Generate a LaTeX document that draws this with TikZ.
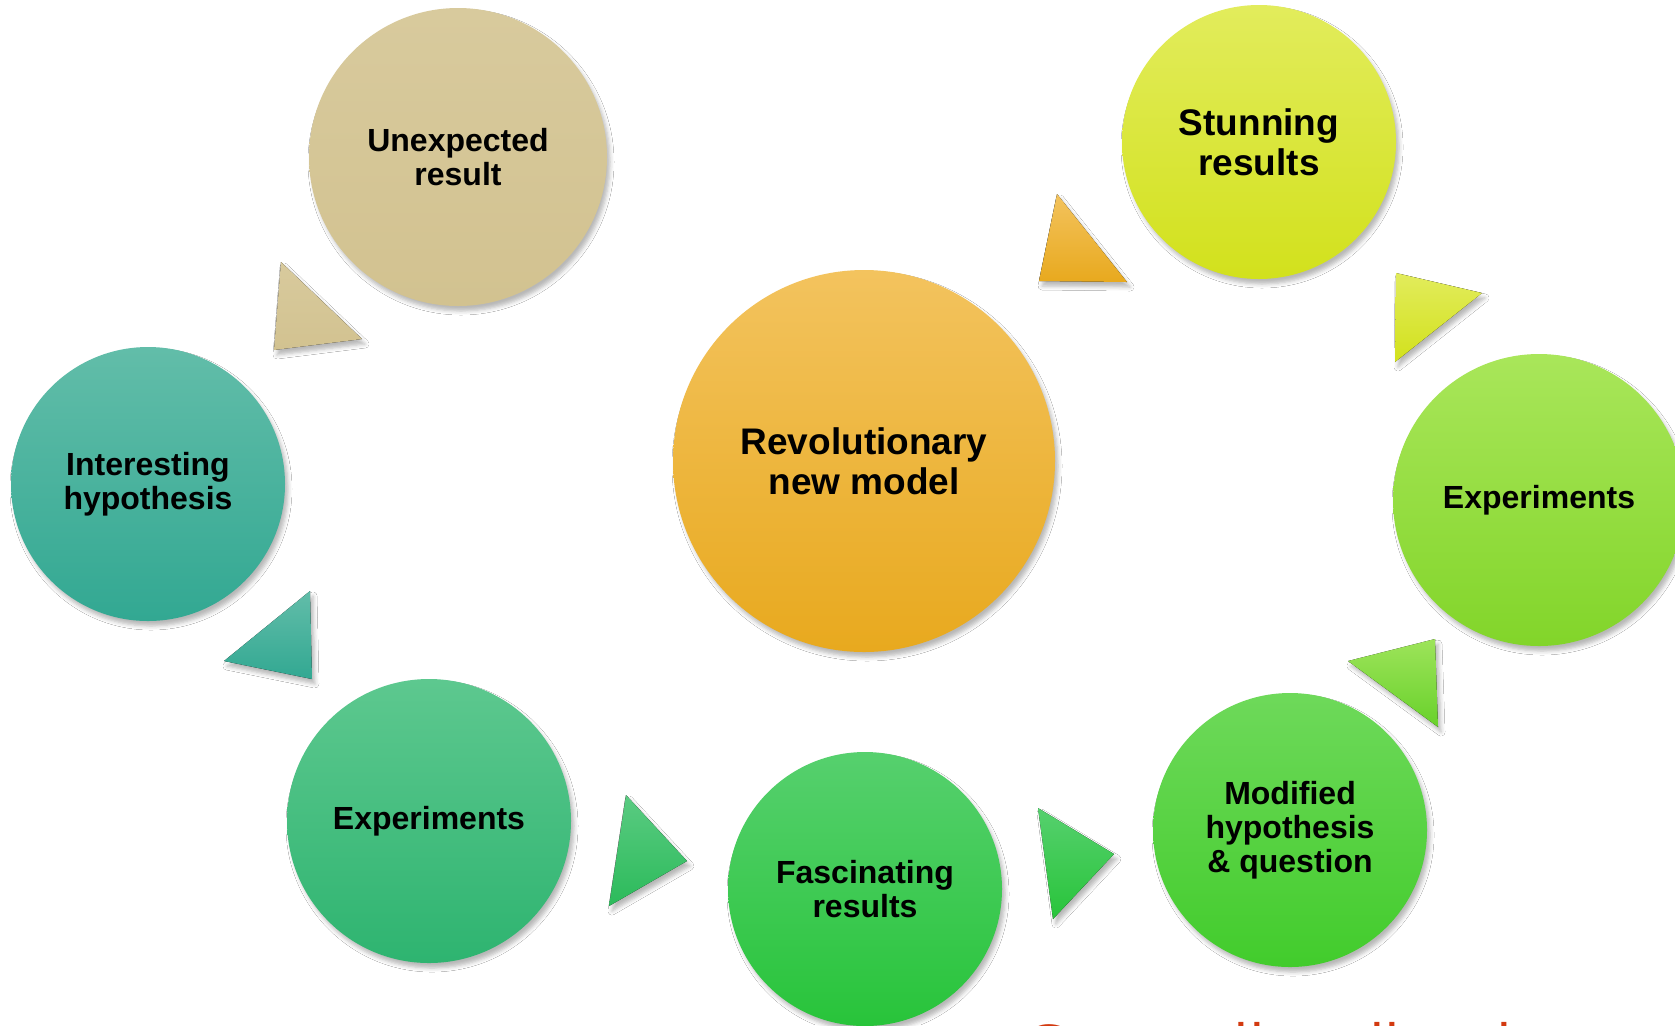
\documentclass[tikz,border=0pt]{standalone}
\usepackage{fontspec}
\setmainfont{Liberation Sans}
\newfontfamily\notefont{Open Sans}
\usetikzlibrary{shadows.blur}

% bubble colours (top / bottom of each gradient)
\definecolor{tanA}{HTML}{D8CA9D}
\definecolor{tanB}{HTML}{D2C290}
\definecolor{tealA}{HTML}{62BDA9}
\definecolor{tealB}{HTML}{32A892}
\definecolor{jadeA}{HTML}{5DC88F}
\definecolor{jadeB}{HTML}{2EB470}
\definecolor{grnA}{HTML}{56D06E}
\definecolor{grnB}{HTML}{28C43A}
\definecolor{limeA}{HTML}{6ED95A}
\definecolor{limeB}{HTML}{42CC2C}
\definecolor{leafA}{HTML}{A9E65A}
\definecolor{leafB}{HTML}{82D52A}
\definecolor{yelA}{HTML}{E2EC5C}
\definecolor{yelB}{HTML}{D2E11C}
\definecolor{ornA}{HTML}{F3C35E}
\definecolor{ornM}{HTML}{F6B92C}
\definecolor{ornB}{HTML}{E8A91E}
\definecolor{noteRed}{HTML}{D33A10}

\tikzset{
  softshadow/.style={blur shadow={shadow xshift=1.5pt, shadow yshift=-2.5pt,
      shadow blur radius=2pt, shadow opacity=28}},
  bubble/.style={circle, inner sep=0pt, align=center, text=black, softshadow,
      font=\bfseries\fontsize{16}{17}\selectfont},
  bigbubble/.style={bubble, font=\bfseries\fontsize{18.5}{20}\selectfont},
  pointer/.style={softshadow},
}

\begin{document}
\begin{tikzpicture}[x=0.5pt, y=-0.5pt]
  \useasboundingbox (0,0) rectangle (1675,1025);
  \clip (0,0) rectangle (1675,1025);
  \fill[white] (0,0) rectangle (1675,1025);

  % the cycle of bubbles
  \node[bubble, minimum size=149pt, top color=tanA, bottom color=tanB]
    (unexp) at (458,157) {Unexpected\\result};
  \node[bubble, minimum size=137pt, top color=tealA, bottom color=tealB]
    (hypo) at (148,484) {Interesting\\hypothesis};
  \node[bubble, minimum size=142pt, top color=jadeA, bottom color=jadeB]
    (expL) at (429,821) {Experiments};
  \node[bubble, minimum size=137pt, top color=grnA, bottom color=grnB]
    (fasc) at (865,889) {Fascinating\\results};
  \node[bubble, minimum size=137pt, top color=limeA, bottom color=limeB]
    (modif) at (1290,830) {Modified\\hypothesis\\\& question};
  \node[bubble, minimum size=146pt, top color=leafA, bottom color=leafB]
    (expR) at (1539,500) {Experiments};
  \node[bigbubble, minimum size=137pt, top color=yelA, bottom color=yelB]
    (stun) at (1259,142) {Stunning\\results};
  \node[bigbubble, minimum size=191pt, top color=ornA, middle color=ornM, bottom color=ornB]
    (revo) at (864,461) {Revolutionary\\new model};

  % triangular pointers between bubbles
  \fill[pointer, top color=tanA, bottom color=tanB]
    (281,262) -- (362,339) -- (274,350) -- cycle;
  \fill[pointer, top color=ornA, bottom color=ornB]
    (1057,194) -- (1127,282) -- (1039,281) -- cycle;
  \fill[pointer, top color=yelA, bottom color=yelB]
    (1396,273) -- (1482,293) -- (1395,362) -- cycle;
  \fill[pointer, top color=leafA!80!limeA, bottom color=leafB!60!limeB]
    (1435,639) -- (1438,727) -- (1348,661) -- cycle;
  \fill[pointer, top color=tealA, bottom color=tealB]
    (310,591) -- (312,679) -- (224,661) -- cycle;
  \fill[pointer, top color=jadeA!60!grnA, bottom color=jadeB!60!grnB]
    (626,795) -- (687,861) -- (609,906) -- cycle;
  \fill[pointer, top color=grnA, bottom color=grnB]
    (1038,808) -- (1114,854) -- (1053,919) -- cycle;

  % caption running off the lower edge
  \node[anchor=base west, inner sep=0pt, text=noteRed,
        font=\notefont\fontsize{31}{36}\selectfont]
    (note) at (1022,1069) {Generally tells a larger story};
\end{tikzpicture}
\end{document}
